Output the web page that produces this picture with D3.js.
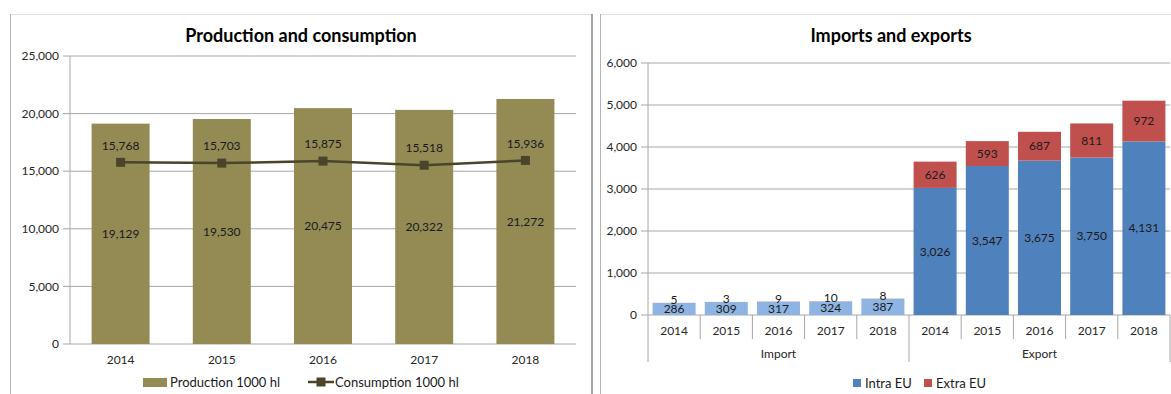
<!DOCTYPE html>
<html>
<head>
<meta charset="utf-8">
<script src="https://cdn.jsdelivr.net/npm/d3@7"></script>
<style>
    body { margin: 0; background: #fff; }
    text { font-family: Lato, "Liberation Sans", sans-serif; }
</style>
</head>
<body>
<div id="chart"></div>
<script>
var ctx = {
    w: 1171,
    h: 394
};

// left chart data
var years = ["2014", "2015", "2016", "2017", "2018"];
var production = [19129, 19530, 20475, 20322, 21272];
var consumption = [15768, 15703, 15875, 15518, 15936];
var prodTicks = [0, 5000, 10000, 15000, 20000, 25000];

// right chart data
var groups = ["Import", "Export"];
var importIntra = [286, 309, 317, 324, 387];
var importExtra = [5, 3, 9, 10, 8];
var exportIntra = [3026, 3547, 3675, 3750, 4131];
var exportExtra = [626, 593, 687, 811, 972];
var tradeTicks = [0, 1000, 2000, 3000, 4000, 5000, 6000];

var fmt = d3.format(",");

var createProduction = function (svg) {
    var x = d3.scaleBand().domain(years).range([70, 576])
        .paddingInner(0.427).paddingOuter(0.2135);
    var y = d3.scaleLinear().domain([0, 25000]).range([344, 56]);

    svg.append("text")
        .attr("x", 301).attr("y", 42)
        .attr("text-anchor", "middle")
        .style("font-size", "18px").style("font-weight", "bold")
        .text("Production and consumption");

    // gridlines + tick labels
    svg.selectAll("line.grid-l")
        .data(prodTicks)
        .enter().append("line")
        .attr("class", "grid-l")
        .attr("x1", 63).attr("x2", 576)
        .attr("y1", function (d) { return y(d); })
        .attr("y2", function (d) { return y(d); })
        .style("stroke", "#a6a6a6").style("stroke-width", 1);

    svg.selectAll("text.tick-l")
        .data(prodTicks)
        .enter().append("text")
        .attr("class", "tick-l")
        .attr("x", 59)
        .attr("y", function (d) { return y(d); })
        .attr("dy", "0.35em")
        .attr("text-anchor", "end")
        .style("font-size", "12px").style("fill", "#262626")
        .text(function (d) { return fmt(d); });

    svg.append("line")
        .attr("x1", 70).attr("x2", 70)
        .attr("y1", y(25000)).attr("y2", y(0))
        .style("stroke", "#a6a6a6");

    svg.selectAll("rect.prod")
        .data(production)
        .enter().append("rect")
        .attr("class", "prod")
        .attr("x", function (d, i) { return x(years[i]); })
        .attr("y", function (d) { return y(d); })
        .attr("width", x.bandwidth())
        .attr("height", function (d) { return y(0) - y(d); })
        .style("fill", "#948a54");

    svg.selectAll("text.prod-lbl")
        .data(production)
        .enter().append("text")
        .attr("class", "prod-lbl")
        .attr("x", function (d, i) { return x(years[i]) + x.bandwidth() / 2; })
        .attr("y", function (d) { return (y(d) + y(0)) / 2; })
        .attr("dy", "0.35em")
        .attr("text-anchor", "middle")
        .style("font-size", "12px").style("fill", "#1a1a1a")
        .text(function (d) { return fmt(d); });

    var line = d3.line()
        .x(function (d, i) { return x(years[i]) + x.bandwidth() / 2; })
        .y(function (d) { return y(d); });

    svg.append("path")
        .datum(consumption)
        .attr("d", line)
        .style("fill", "none")
        .style("stroke", "#4a452a")
        .style("stroke-width", 2.5);

    svg.selectAll("rect.cons")
        .data(consumption)
        .enter().append("rect")
        .attr("class", "cons")
        .attr("x", function (d, i) { return x(years[i]) + x.bandwidth() / 2 - 4.5; })
        .attr("y", function (d) { return y(d) - 4.5; })
        .attr("width", 9).attr("height", 9)
        .style("fill", "#4a452a");

    svg.selectAll("text.cons-lbl")
        .data(consumption)
        .enter().append("text")
        .attr("class", "cons-lbl")
        .attr("x", function (d, i) { return x(years[i]) + x.bandwidth() / 2; })
        .attr("y", function (d) { return y(d) - 17; })
        .attr("dy", "0.35em")
        .attr("text-anchor", "middle")
        .style("font-size", "12px").style("fill", "#1a1a1a")
        .text(function (d) { return fmt(d); });

    svg.selectAll("text.year-l")
        .data(years)
        .enter().append("text")
        .attr("class", "year-l")
        .attr("x", function (d) { return x(d) + x.bandwidth() / 2; })
        .attr("y", 360)
        .attr("dy", "0.35em")
        .attr("text-anchor", "middle")
        .style("font-size", "12px").style("fill", "#262626")
        .text(function (d) { return d; });

    // legend
    svg.append("rect")
        .attr("x", 143).attr("y", 378).attr("width", 24).attr("height", 9)
        .style("fill", "#948a54");
    svg.append("text")
        .attr("x", 170).attr("y", 382).attr("dy", "0.35em")
        .style("font-size", "13px").style("fill", "#1a1a1a")
        .text("Production 1000 hl");
    svg.append("line")
        .attr("x1", 308).attr("x2", 334).attr("y1", 382).attr("y2", 382)
        .style("stroke", "#4a452a").style("stroke-width", 2.5);
    svg.append("rect")
        .attr("x", 316.5).attr("y", 377.5).attr("width", 9).attr("height", 9)
        .style("fill", "#4a452a");
    svg.append("text")
        .attr("x", 335).attr("y", 382).attr("dy", "0.35em")
        .style("font-size", "13px").style("fill", "#1a1a1a")
        .text("Consumption 1000 hl");
};

var createTrade = function (svg) {
    var rows = [];
    var series = [[importIntra, importExtra], [exportIntra, exportExtra]];
    for (var g = 0; g < groups.length; g++) {
        for (var i = 0; i < years.length; i++) {
            rows.push({
                key: groups[g] + "-" + years[i],
                group: groups[g],
                year: years[i],
                intra: series[g][0][i],
                extra: series[g][1][i]
            });
        }
    }

    var x = d3.scaleBand()
        .domain(rows.map(function (d) { return d.key; }))
        .range([648, 1170])
        .paddingInner(0.176).paddingOuter(0.088);
    var y = d3.scaleLinear().domain([0, 6000]).range([315, 63]);

    var colors = {
        Import: { intra: "#8db4e2", extra: "#e6a3a1" },
        Export: { intra: "#4f81bd", extra: "#c0504d" }
    };

    svg.append("text")
        .attr("x", 891).attr("y", 42)
        .attr("text-anchor", "middle")
        .style("font-size", "18px").style("font-weight", "bold")
        .text("Imports and exports");

    svg.selectAll("line.grid-r")
        .data(tradeTicks)
        .enter().append("line")
        .attr("class", "grid-r")
        .attr("x1", 641).attr("x2", 1170)
        .attr("y1", function (d) { return y(d); })
        .attr("y2", function (d) { return y(d); })
        .style("stroke", "#a6a6a6");

    svg.selectAll("text.tick-r")
        .data(tradeTicks)
        .enter().append("text")
        .attr("class", "tick-r")
        .attr("x", 637)
        .attr("y", function (d) { return y(d); })
        .attr("dy", "0.35em")
        .attr("text-anchor", "end")
        .style("font-size", "12px").style("fill", "#262626")
        .text(function (d) { return fmt(d); });

    svg.append("line")
        .attr("x1", 648).attr("x2", 648)
        .attr("y1", y(6000)).attr("y2", y(0))
        .style("stroke", "#a6a6a6");

    // category separators
    var step = x.step();
    var bounds = d3.range(rows.length + 1).map(function (i) { return 648 + i * step; });
    svg.selectAll("line.sep")
        .data(bounds)
        .enter().append("line")
        .attr("class", "sep")
        .attr("x1", function (d) { return d; })
        .attr("x2", function (d) { return d; })
        .attr("y1", y(0))
        .attr("y2", function (d, i) { return i % 5 == 0 ? 362 : 339; })
        .style("stroke", "#a6a6a6");

    svg.selectAll("rect.intra")
        .data(rows)
        .enter().append("rect")
        .attr("class", "intra")
        .attr("x", function (d) { return x(d.key); })
        .attr("y", function (d) { return y(d.intra); })
        .attr("width", x.bandwidth())
        .attr("height", function (d) { return y(0) - y(d.intra); })
        .style("fill", function (d) { return colors[d.group].intra; });

    svg.selectAll("rect.extra")
        .data(rows)
        .enter().append("rect")
        .attr("class", "extra")
        .attr("x", function (d) { return x(d.key); })
        .attr("y", function (d) { return y(d.intra + d.extra); })
        .attr("width", x.bandwidth())
        .attr("height", function (d) { return y(d.intra) - y(d.intra + d.extra); })
        .style("fill", function (d) { return colors[d.group].extra; });

    svg.selectAll("text.extra-lbl")
        .data(rows)
        .enter().append("text")
        .attr("class", "extra-lbl")
        .attr("x", function (d) { return x(d.key) + x.bandwidth() / 2; })
        .attr("y", function (d) {
            var c = (y(d.intra) + y(d.intra + d.extra)) / 2;
            return d.group == "Import" ? c - 3 : c;
        })
        .attr("dy", "0.35em")
        .attr("text-anchor", "middle")
        .style("font-size", "12px").style("fill", "#1a1a1a")
        .text(function (d) { return fmt(d.extra); });

    svg.selectAll("text.intra-lbl")
        .data(rows)
        .enter().append("text")
        .attr("class", "intra-lbl")
        .attr("x", function (d) { return x(d.key) + x.bandwidth() / 2; })
        .attr("y", function (d) { return (y(d.intra) + y(0)) / 2; })
        .attr("dy", "0.35em")
        .attr("text-anchor", "middle")
        .style("font-size", "12px").style("fill", "#1a1a1a")
        .text(function (d) { return fmt(d.intra); });

    svg.selectAll("text.year-r")
        .data(rows)
        .enter().append("text")
        .attr("class", "year-r")
        .attr("x", function (d) { return x(d.key) + x.bandwidth() / 2; })
        .attr("y", 331)
        .attr("dy", "0.35em")
        .attr("text-anchor", "middle")
        .style("font-size", "12px").style("fill", "#262626")
        .text(function (d) { return d.year; });

    svg.selectAll("text.group")
        .data(groups)
        .enter().append("text")
        .attr("class", "group")
        .attr("x", function (d, i) { return 648 + step * (i * 5 + 2.5); })
        .attr("y", 354)
        .attr("dy", "0.35em")
        .attr("text-anchor", "middle")
        .style("font-size", "12px").style("fill", "#262626")
        .text(function (d) { return d; });

    // legend
    var legend = [
        { name: "Intra EU", color: colors.Export.intra, x: 853 },
        { name: "Extra EU", color: colors.Export.extra, x: 924 }
    ];
    var lg = svg.selectAll("g.legend")
        .data(legend)
        .enter().append("g")
        .attr("class", "legend")
        .attr("transform", function (d) { return "translate(" + d.x + ",383)"; });
    lg.append("rect")
        .attr("x", 0).attr("y", -4).attr("width", 8).attr("height", 8)
        .style("fill", function (d) { return d.color; });
    lg.append("text")
        .attr("x", 12).attr("dy", "0.35em")
        .style("font-size", "13px").style("fill", "#1a1a1a")
        .text(function (d) { return d.name; });
};

var createViz = function () {
    var svg = d3.select("#chart").append("svg")
        .attr("width", ctx.w)
        .attr("height", ctx.h);

    // panel frames
    svg.append("line").attr("x1", 10).attr("x2", 592).attr("y1", 14.5).attr("y2", 14.5)
        .style("stroke", "#e3e3e3");
    svg.append("line").attr("x1", 600).attr("x2", 1171).attr("y1", 14.5).attr("y2", 14.5)
        .style("stroke", "#e3e3e3");
    svg.append("line").attr("x1", 10.5).attr("x2", 10.5).attr("y1", 14).attr("y2", ctx.h)
        .style("stroke", "#b3b3b3");
    svg.append("line").attr("x1", 592).attr("x2", 592).attr("y1", 14).attr("y2", ctx.h)
        .style("stroke", "#a6a6a6").style("stroke-width", 2);
    svg.append("line").attr("x1", 600.5).attr("x2", 600.5).attr("y1", 14).attr("y2", ctx.h)
        .style("stroke", "#b3b3b3");

    createProduction(svg);
    createTrade(svg);
};

createViz();
</script>
</body>
</html>
